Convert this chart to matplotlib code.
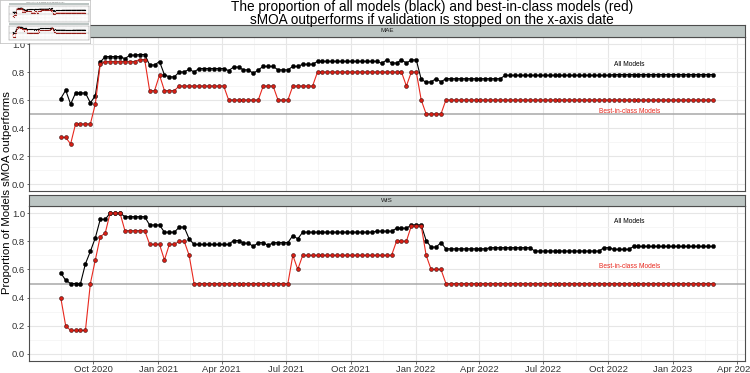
import numpy as np
import pandas as pd
import matplotlib
matplotlib.use("Agg")
import matplotlib.pyplot as plt
import matplotlib.dates as mdates

plt.rcParams['font.family'] = ['Liberation Sans', 'DejaVu Sans']

# weekly validation stop dates
dates = pd.date_range("2020-08-16", periods=133, freq="7D")

mae_all = [
    0.61, 0.67, 0.57, 0.65, 0.65, 0.65, 0.58, 0.63, 0.87, 0.91,
    0.91, 0.91, 0.91, 0.895, 0.92, 0.92, 0.925, 0.925, 0.85, 0.85,
    0.875, 0.78, 0.765, 0.765, 0.80, 0.80, 0.82, 0.80, 0.825, 0.825,
    0.825, 0.825, 0.825, 0.825, 0.81, 0.835, 0.835, 0.815, 0.815, 0.79,
    0.815, 0.84, 0.84, 0.84, 0.815, 0.815, 0.815, 0.84, 0.84, 0.855,
    0.855, 0.855, 0.876, 0.876, 0.876, 0.876, 0.876, 0.876, 0.876, 0.876,
    0.876, 0.876, 0.876, 0.876, 0.876, 0.862, 0.886, 0.864, 0.864, 0.886,
    0.864, 0.886, 0.886, 0.748, 0.726, 0.73, 0.752, 0.73, 0.752, 0.752,
    0.752, 0.752, 0.752, 0.752, 0.752, 0.752, 0.752, 0.752, 0.752, 0.752,
    0.776, 0.776, 0.776, 0.776, 0.776, 0.776, 0.776, 0.776, 0.776, 0.776,
    0.776, 0.776, 0.776, 0.776, 0.776, 0.776, 0.776, 0.776, 0.776, 0.776,
    0.776, 0.776, 0.782, 0.782, 0.782, 0.782, 0.782, 0.782, 0.782, 0.782,
    0.782, 0.782, 0.782, 0.782, 0.782, 0.782, 0.782, 0.782, 0.782, 0.782,
    0.782, 0.782, 0.782,
]
mae_best = [
    0.333, 0.333, 0.286, 0.429, 0.429, 0.429, 0.429, 0.571, 0.857, 0.875,
    0.875, 0.875, 0.875, 0.875, 0.875, 0.875, 0.889, 0.889, 0.667, 0.667,
    0.778, 0.667, 0.667, 0.667, 0.7, 0.7, 0.7, 0.7, 0.7, 0.7,
    0.7, 0.7, 0.7, 0.7, 0.6, 0.6, 0.6, 0.6, 0.6, 0.6,
    0.6, 0.7, 0.7, 0.7, 0.6, 0.6, 0.6, 0.7, 0.7, 0.7,
    0.7, 0.7, 0.8, 0.8, 0.8, 0.8, 0.8, 0.8, 0.8, 0.8,
    0.8, 0.8, 0.8, 0.8, 0.8, 0.8, 0.8, 0.8, 0.8, 0.8,
    0.7, 0.8, 0.8, 0.6, 0.5, 0.5, 0.5, 0.5, 0.6, 0.6,
    0.6, 0.6, 0.6, 0.6, 0.6, 0.6, 0.6, 0.6, 0.6, 0.6,
    0.6, 0.6, 0.6, 0.6, 0.6, 0.6, 0.6, 0.6, 0.6, 0.6,
    0.6, 0.6, 0.6, 0.6, 0.6, 0.6, 0.6, 0.6, 0.6, 0.6,
    0.6, 0.6, 0.6, 0.6, 0.6, 0.6, 0.6, 0.6, 0.6, 0.6,
    0.6, 0.6, 0.6, 0.6, 0.6, 0.6, 0.6, 0.6, 0.6, 0.6,
    0.6, 0.6, 0.6,
]
wis_all = [
    0.575, 0.523, 0.5, 0.5, 0.5, 0.64, 0.728, 0.824, 0.955, 0.955,
    1.0, 1.0, 1.0, 0.974, 0.974, 0.974, 0.974, 0.974, 0.915, 0.915,
    0.915, 0.864, 0.864, 0.864, 0.9, 0.9, 0.817, 0.777, 0.777, 0.777,
    0.777, 0.777, 0.777, 0.777, 0.777, 0.805, 0.805, 0.786, 0.786, 0.763,
    0.79, 0.79, 0.77, 0.79, 0.79, 0.79, 0.79, 0.84, 0.817, 0.864,
    0.864, 0.864, 0.864, 0.864, 0.864, 0.864, 0.864, 0.864, 0.864, 0.864,
    0.864, 0.864, 0.864, 0.864, 0.871, 0.871, 0.871, 0.871, 0.892, 0.892,
    0.892, 0.915, 0.915, 0.915, 0.805, 0.758, 0.758, 0.79, 0.746, 0.746,
    0.746, 0.746, 0.746, 0.746, 0.746, 0.746, 0.746, 0.754, 0.754, 0.754,
    0.754, 0.754, 0.754, 0.754, 0.754, 0.754, 0.73, 0.73, 0.73, 0.73,
    0.73, 0.73, 0.73, 0.73, 0.73, 0.73, 0.73, 0.73, 0.73, 0.73,
    0.754, 0.754, 0.742, 0.742, 0.742, 0.742, 0.763, 0.763, 0.763, 0.763,
    0.763, 0.763, 0.763, 0.763, 0.763, 0.763, 0.763, 0.763, 0.763, 0.763,
    0.763, 0.763, 0.763,
]
wis_best = [
    0.4, 0.2, 0.167, 0.167, 0.167, 0.167, 0.5, 0.667, 0.833, 0.857,
    1.0, 1.0, 1.0, 0.875, 0.875, 0.875, 0.875, 0.875, 0.778, 0.778,
    0.778, 0.667, 0.778, 0.778, 0.8, 0.8, 0.7, 0.5, 0.5, 0.5,
    0.5, 0.5, 0.5, 0.5, 0.5, 0.5, 0.5, 0.5, 0.5, 0.5,
    0.5, 0.5, 0.5, 0.5, 0.5, 0.5, 0.5, 0.7, 0.6, 0.7,
    0.7, 0.7, 0.7, 0.7, 0.7, 0.7, 0.7, 0.7, 0.7, 0.7,
    0.7, 0.7, 0.7, 0.7, 0.7, 0.7, 0.7, 0.7, 0.8, 0.8,
    0.8, 0.909, 0.909, 0.909, 0.7, 0.6, 0.6, 0.6, 0.5, 0.5,
    0.5, 0.5, 0.5, 0.5, 0.5, 0.5, 0.5, 0.5, 0.5, 0.5,
    0.5, 0.5, 0.5, 0.5, 0.5, 0.5, 0.5, 0.5, 0.5, 0.5,
    0.5, 0.5, 0.5, 0.5, 0.5, 0.5, 0.5, 0.5, 0.5, 0.5,
    0.5, 0.5, 0.5, 0.5, 0.5, 0.5, 0.5, 0.5, 0.5, 0.5,
    0.5, 0.5, 0.5, 0.5, 0.5, 0.5, 0.5, 0.5, 0.5, 0.5,
    0.5, 0.5, 0.5,
]

panels = ["MAE", "WIS"]
all_series = [mae_all, wis_all]
best_series = [mae_best, wis_best]
# label positions (date, y) for the "All Models" / "Best-in-class Models" notes
label_date = pd.Timestamp("2022-10-31")
all_label_y = [0.85, 0.94]
best_label_y = [0.52, 0.62]

RED = "#e8281e"
XMIN = pd.Timestamp("2020-07-02")
XMAX = pd.Timestamp("2023-04-13")


def draw_panel(ax, all_v, best_v, scale=1.0, grid=True):
    ax.set_xlim(XMIN, XMAX)
    ax.set_ylim(-0.05, 1.05)
    if grid:
        majors = pd.date_range("2020-07-01", "2023-04-01", freq="QS")
        minors = majors[:-1] + (majors[1:] - majors[:-1]) / 2
        for d in minors:
            ax.axvline(d, color="#f3f3f3", lw=0.5 * scale, zorder=0)
        for d in majors:
            ax.axvline(d, color="#e6e6e6", lw=0.8 * scale, zorder=0)
        for y in [0.1, 0.3, 0.7, 0.9]:
            ax.axhline(y, color="#f3f3f3", lw=0.5 * scale, zorder=0)
        for y in [0.0, 0.2, 0.4, 0.6, 0.8, 1.0]:
            ax.axhline(y, color="#e6e6e6", lw=0.8 * scale, zorder=0)
    ax.axhline(0.5, color="#a8a8a8", lw=1.1 * scale, zorder=1)
    ax.plot(dates, all_v, color="black", lw=0.8 * scale, zorder=3,
            marker="o", ms=3.0 * scale, mfc="black", mec="black", mew=0.3 * scale)
    ax.plot(dates, best_v, color=RED, lw=0.8 * scale, zorder=3,
            marker="o", ms=2.8 * scale, mfc="#d81e14", mec="#3a1010", mew=0.4 * scale)
    for s in ax.spines.values():
        s.set_color("#4d4d4d")
        s.set_linewidth(0.8 * scale)


fig = plt.figure(figsize=(7.5, 3.73), dpi=100)
W, H = 750.0, 373.0

panel_px = [(37, 191), (206, 361)]
strip_px = [(25, 37), (195, 206)]
left, right = 29, 745

for i, name in enumerate(panels):
    top, bot = panel_px[i]
    ax = fig.add_axes([left / W, 1 - bot / H, (right - left) / W, (bot - top) / H])
    draw_panel(ax, all_series[i], best_series[i])
    ax.set_yticks([0.0, 0.2, 0.4, 0.6, 0.8, 1.0])
    ax.set_yticklabels(["0.0", "0.2", "0.4", "0.6", "0.8", "1.0"])
    ax.tick_params(axis="both", colors="#4d4d4d", labelcolor="#333333",
                   labelsize=6.8, length=1.8, width=0.6, pad=1.0)
    ax.xaxis.set_major_locator(mdates.MonthLocator(bymonth=[1, 4, 7, 10]))
    ax.xaxis.set_major_formatter(mdates.DateFormatter("%b %Y"))
    if i == 0:
        ax.tick_params(axis="x", labelbottom=False, length=0)
    ax.text(label_date, all_label_y[i], "All Models", fontsize=4.8,
            color="black", ha="center", va="center")
    ax.text(label_date, best_label_y[i], "Best-in-class Models", fontsize=4.8,
            color=RED, ha="center", va="center")

    st, sb = strip_px[i]
    sax = fig.add_axes([left / W, 1 - sb / H, (right - left) / W, (sb - st) / H])
    sax.set_facecolor("#bcc5c3")
    sax.set_xticks([])
    sax.set_yticks([])
    for s in sax.spines.values():
        s.set_color("#4d4d4d")
        s.set_linewidth(0.8)
    sax.text(0.5, 0.5, name, fontsize=4.5, color="#1a1a1a",
             ha="center", va="center", transform=sax.transAxes)

fig.text(7 / W, 1 - 193 / H, "Proportion of Models sMOA outperforms", rotation=90,
         fontsize=8.2, ha="center", va="center", color="black")
fig.text(432 / W, 1 - 7.5 / H,
         "The proportion of all models (black) and best-in-class models (red)",
         fontsize=9.8, ha="center", va="center")
fig.text(432 / W, 1 - 20 / H,
         "sMOA outperforms if validation is stopped on the x-axis date",
         fontsize=9.8, ha="center", va="center")

# small thumbnail of the figure in the top-left corner
iw, ih = 90, 43
bg = fig.add_axes([0, 1 - ih / H, iw / W, ih / H], zorder=10)
bg.set_facecolor("white")
bg.set_xticks([])
bg.set_yticks([])
for s in bg.spines.values():
    s.set_color("#bbbbbb")
    s.set_linewidth(0.5)
mini_panels = [(5, 22), (25, 40)]
for i in range(2):
    t, b = mini_panels[i]
    strip = fig.add_axes([9 / W, 1 - t / H, 80 / W, 1.6 / H], zorder=11)
    strip.set_facecolor("#bcc5c3")
    strip.set_xticks([])
    strip.set_yticks([])
    for s in strip.spines.values():
        s.set_visible(False)
    mini = fig.add_axes([9 / W, 1 - b / H, 80 / W, (b - t - 1) / H], zorder=11)
    draw_panel(mini, all_series[i], best_series[i], scale=0.25, grid=True)
    mini.set_xticks([])
    mini.set_yticks([])
fig.text(45 / W, 1 - 2 / H, "The proportion of all models (black) and best-in-class",
         fontsize=1.2, ha="center", va="center", zorder=12, color="#555555")

fig.savefig("out.png", dpi=100)
plt.close(fig)
